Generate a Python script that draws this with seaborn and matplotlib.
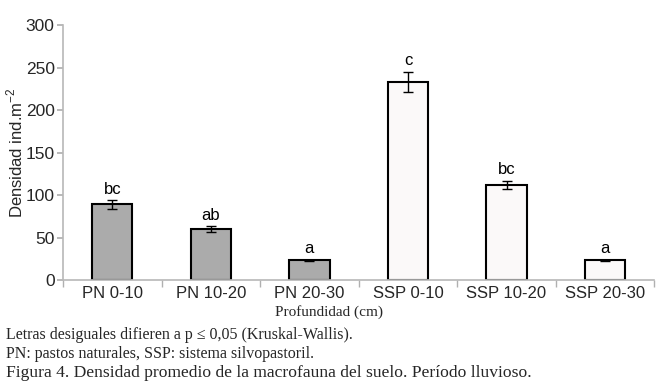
import matplotlib
matplotlib.use("Agg")
import matplotlib.pyplot as plt
import seaborn as sns
import pandas as pd

categories = ["PN 0-10", "PN 10-20", "PN 20-30", "SSP 0-10", "SSP 10-20", "SSP 20-30"]
groups = ["PN", "PN", "PN", "SSP", "SSP", "SSP"]
values = [89, 60, 23, 233, 112, 23]
errors = [5, 3, 1, 12, 5, 1]
letters = ["bc", "ab", "a", "c", "bc", "a"]

sns.set_theme(style="white")
plt.rcParams['font.family'] = ['Liberation Sans', 'DejaVu Sans']

df = pd.DataFrame({"cat": categories, "grp": groups, "val": values})

fig = plt.figure(figsize=(6.66, 3.86), dpi=100)
ax = fig.add_axes([0.0946, 0.2746, 0.888, 0.6606])

sns.barplot(data=df, x="cat", y="val", hue="grp", palette={"PN": "#ababab", "SSP": "#fcf8f8"},
            order=categories, dodge=False, width=0.41, edgecolor="black", linewidth=1.5,
            legend=False, ax=ax, errorbar=None)

xs = list(range(len(categories)))
ax.errorbar(xs, values, yerr=errors, fmt="none", ecolor="black", elinewidth=1, capsize=3.5, capthick=1)
for x, v, e, l in zip(xs, values, errors, letters):
    ax.text(x, v + e + 4, l, ha="center", va="bottom", fontsize=12, color="black")

ax.set_ylim(0, 300)
ax.set_xlim(-0.5, 5.5)
ax.set_yticks([0, 50, 100, 150, 200, 250, 300])
ax.tick_params(axis="y", labelsize=12.5, length=4, color="#b0b0b0", direction="out", left=True, pad=2)
ax.set_xticks(xs)
ax.set_xticklabels(categories, fontsize=12)
ax.tick_params(axis="x", length=0, pad=4)
ax.set_xticks([i + 0.5 for i in range(-1, 6)], minor=True)
ax.tick_params(axis="x", which="minor", length=5, color="#b0b0b0", direction="out", bottom=True)

for s in ["top", "right"]:
    ax.spines[s].set_visible(False)
for s in ["left", "bottom"]:
    ax.spines[s].set_color("#b8b8b8")
    ax.spines[s].set_linewidth(1.2)

ax.set_ylabel("Densidad ind.m$^{\\mathregular{-2}}$", fontsize=12)
ax.yaxis.set_label_coords(-0.064, 0.5)
ax.set_xlabel("")

serif = ["Liberation Serif", "DejaVu Serif"]
fig.text(0.494, 0.192, "Profundidad (cm)", ha="center", va="center", fontsize=11, family=serif)
fig.text(0.009, 0.132, "Letras desiguales difieren a p ≤ 0,05 (Kruskal-Wallis).", ha="left", va="center",
         fontsize=11.5, family=serif)
fig.text(0.009, 0.083, "PN: pastos naturales, SSP: sistema silvopastoril.", ha="left", va="center",
         fontsize=11.5, family=serif)
fig.text(0.009, 0.033, "Figura 4. Densidad promedio de la macrofauna del suelo. Período lluvioso.", ha="left", va="center",
         fontsize=12.6, family=serif)

fig.savefig("out.png", dpi=100)
